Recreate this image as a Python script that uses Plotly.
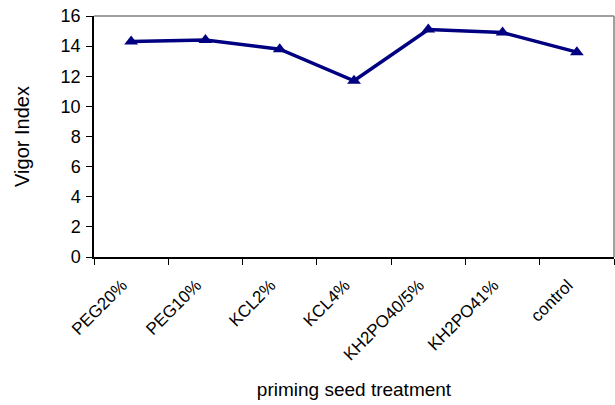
import plotly.graph_objects as go

categories = ["PEG20%", "PEG10%", "KCL2%", "KCL4%", "KH2PO40/5%", "KH2PO41%", "control"]
vigor_index = [14.3, 14.4, 13.8, 11.7, 15.1, 14.9, 13.6]
y_ticks = [0, 2, 4, 6, 8, 10, 12, 14, 16]

FONT = "Liberation Sans, Arial, sans-serif"

fig = go.Figure()
fig.add_trace(go.Scatter(
    x=categories, y=vigor_index, mode="lines+markers",
    line=dict(color="#000080", width=3.5),
    marker=dict(symbol="triangle-up", size=12, color="#000080"),
    cliponaxis=False, showlegend=False,
))

fig.update_layout(
    width=615, height=405,
    margin=dict(l=94, r=1, t=16, b=148),
    paper_bgcolor="white", plot_bgcolor="white",
    font=dict(family=FONT, size=17, color="black"),
    shapes=[
        dict(type="line", xref="paper", yref="paper", x0=0, x1=1, y0=1, y1=1,
             line=dict(color="#808080", width=1.5)),
        dict(type="line", xref="paper", yref="paper", x0=1, x1=1, y0=0, y1=1,
             line=dict(color="#808080", width=1.5)),
    ],
)
fig.update_xaxes(
    type="category", range=[-0.5, 6.5], tickson="boundaries",
    ticks="outside", ticklen=6, tickcolor="black", tickwidth=1,
    showline=True, linecolor="black", linewidth=1.5,
    showgrid=False, zeroline=False,
    tickangle=-45, tickfont=dict(size=17),
    ticklabelstandoff=10, ticklabelshift=-9,
    title=dict(text="priming seed treatment", font=dict(size=19), standoff=19),
)
fig.update_yaxes(
    range=[0, 16], tickvals=y_ticks, ticktext=[str(v) for v in y_ticks],
    ticks="outside", ticklen=6, tickcolor="black", tickwidth=1,
    showline=True, linecolor="black", linewidth=1.5,
    showgrid=False, zeroline=False,
    tickfont=dict(size=18),
    ticklabelstandoff=2,
    title=dict(text="Vigor Index", font=dict(size=20), standoff=26),
)

fig.write_html("out.html")
